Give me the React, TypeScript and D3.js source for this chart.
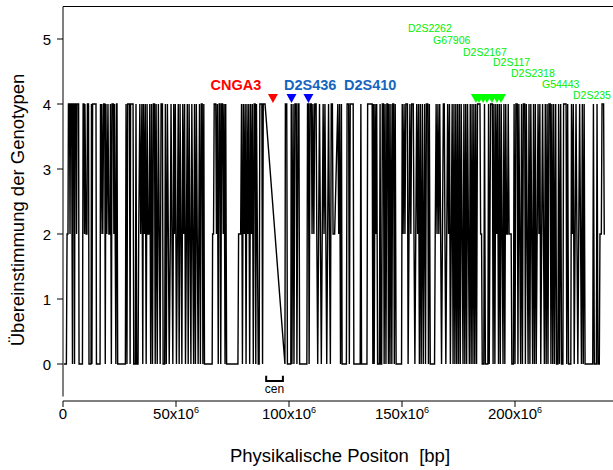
import React from "react";
import * as d3 from "d3";

// SNP position (Mb) and genotype agreement value
const snpMatches: [number, number][] = [
  [0.4,0],[1.5,0],[1.8,2],[2.2,2],[2.4,4],[2.9,4],[3.1,2],[3.3,4],[3.8,4],[4.0,2],[4.2,0],[4.4,4],[4.9,4],[5.1,0],[5.3,4],[5.8,4],[6.0,2],[6.2,4],[6.9,4],[7.1,0],[8.6,0],[8.9,4],[9.3,4],[9.5,2],[9.7,4],[10.2,2],[10.6,2],[10.8,4],[11.3,4],[11.5,0],[12.4,0],[12.6,4],[12.8,0],[13.1,4],[14.6,4],[14.8,0],[16.4,0],
  [16.6,4],[16.8,2],[17.2,4],[17.6,2],[18.0,4],[18.5,4],[18.7,0],[19.0,4],[19.4,2],[19.9,4],[20.3,2],[20.8,2],[21.0,4],[21.4,0],[21.7,4],[22.3,4],[22.5,2],[22.8,4],[23.4,0],[23.7,4],[23.9,4],[24.2,0],[27.6,0],[27.9,4],[28.3,0],[28.6,4],[29.4,4],[29.7,0],
  [29.9,4],[31.0,4],[31.3,0],[32.0,0],[32.3,4],[32.6,0],[33.2,0],[33.5,2],[34.0,4],[34.4,2],[34.9,4],[35.3,0],[35.6,4],[36.0,2],[36.4,4],[36.8,0],[37.2,4],[37.6,2],[38.1,2],[38.4,4],[38.8,0],[39.2,4],[39.6,0],[40.0,4],[40.5,4],[40.8,0],[41.2,4],[41.7,0],[42.2,4],[42.6,2],[43.0,0],
  [43.4,4],[44.0,4],[44.3,0],[45.0,0],[45.3,4],[45.7,0],[46.2,4],[46.6,2],[47.0,0],[47.5,2],[47.8,4],[48.2,2],[48.6,0],[49.0,4],[49.3,2],[49.7,4],[50.2,0],[50.6,2],[51.0,4],[51.4,0],[51.8,4],[52.2,2],[52.6,0],[53.0,4],[53.4,2],[53.8,4],[54.2,0],[54.6,2],[55.0,4],[55.4,0],[55.8,4],[56.2,2],[56.6,0],[57.0,4],[57.4,2],[57.8,0],[58.2,4],[58.6,0],[59.0,4],[59.4,2],[59.8,0],[60.4,4],[60.8,0],
  [61.2,4],[61.6,4],[61.9,0],[62.3,4],[62.6,0],[66.0,0],[66.2,2],[66.6,2],[66.9,4],[67.6,4],[67.9,2],[68.3,4],[68.7,0],[69.1,4],[69.5,4],[69.8,0],[70.2,4],[70.6,4],[70.9,2],[71.3,4],[71.7,0],[72.0,4],[72.4,0],[77.4,0],[77.7,2],[78.6,2],[79.0,4],[79.4,0],[79.8,4],[80.2,2],[80.6,4],[81.0,0],[81.4,4],[81.8,2],[82.2,4],[82.6,0],[83.0,4],[83.4,2],[83.8,4],[84.2,0],[84.6,4],[85.0,4],[85.3,0],[85.6,4],[86.0,2],[86.4,0],[86.8,0],[87.1,4],[88.0,4],[88.3,0],[88.6,4],[89.4,4],[98.2,0],
  [98.4,4],[99.0,4],[99.3,0],[100.8,0],[101.0,4],[101.3,0],[101.8,4],[102.2,0],[102.6,4],[103.2,4],[103.5,0],[104.0,4],[104.4,4],[104.7,0],[107.9,0],[108.2,4],[108.6,4],[108.9,0],[109.3,4],[109.9,4],[110.2,2],[110.6,4],[111.0,2],[111.4,4],[112.0,4],[112.3,2],[112.7,0],[113.1,2],[113.5,4],[113.9,2],[114.3,0],[114.7,2],[115.1,4],[115.5,2],[115.9,4],[116.3,2],[116.7,0],[117.1,2],[117.5,4],[117.9,2],[118.3,0],
  [118.7,4],[119.2,4],[119.5,2],[120.2,2],[121.6,4],[122.0,2],[122.4,4],[122.8,0],[123.2,4],[123.5,0],[125.4,0],[125.7,4],[126.4,4],[126.7,0],[127.1,4],[128.4,4],[128.7,0],[131.5,0],[131.8,4],[132.1,0],[134.5,0],[134.8,4],[136.8,4],[137.1,0],[137.4,4],[137.7,0],[138.1,4],[138.5,2],[138.8,4],[139.2,0],[140.0,0],[140.3,4],[140.6,0],[141.0,0],[141.3,4],[141.8,4],[142.1,0],[142.5,4],[142.9,0],[143.3,4],[143.7,4],[144.0,0],[144.3,4],
  [144.7,0],[145.1,4],[145.5,0],[145.9,4],[146.3,4],[146.6,0],[147.0,4],[147.4,0],[149.8,0],[150.1,4],[150.5,2],[150.9,4],[151.3,2],[151.7,4],[152.4,4],[152.7,0],[153.1,2],[153.5,4],[153.9,2],[154.3,4],[155.0,4],[155.3,2],[155.7,0],[156.1,2],[156.5,4],[156.9,2],[157.3,4],[157.7,0],[158.1,4],[158.5,0],[159.0,4],[159.4,0],[160.0,4],[160.4,0],[160.8,4],[161.4,4],[161.7,0],[162.1,4],[162.5,0],[164.4,0],[164.7,2],
  [165.1,4],[165.5,2],[165.9,4],[166.3,2],[166.7,4],[167.1,2],[167.5,0],[167.9,2],[168.3,4],[168.7,4],[169.0,2],[169.4,0],[169.8,2],[170.2,4],[170.6,2],[171.0,4],[171.4,0],[171.8,2],[172.2,4],[172.6,0],[173.0,4],[173.4,0],[173.8,4],[174.2,0],[174.6,4],[175.0,0],[175.4,4],[175.8,0],[176.2,4],[176.6,2],[177.0,0],[177.4,4],[177.8,0],[178.2,4],[178.6,0],[179.0,4],[179.4,2],[179.8,0],[180.2,4],[180.6,0],[181.0,4],[181.4,0],[181.8,4],[182.2,0],[182.6,4],[183.0,0],
  [183.4,4],[184.5,4],[184.8,2],[185.2,2],[185.5,0],[186.2,0],[186.5,4],[186.9,0],[188.0,0],[188.3,4],[188.6,0],[189.2,4],[190.0,4],[190.3,0],[190.7,4],[191.1,0],[191.5,4],[191.9,2],[192.3,4],[192.7,0],[193.1,4],[193.5,0],[193.9,4],[194.3,2],[194.7,0],[195.1,4],[195.5,0],[195.9,4],[196.3,2],[196.7,2],[197.0,4],[197.4,2],[198.3,2],[198.6,0],[199.3,0],[199.6,4],[200.0,0],[200.4,4],[201.0,4],[201.3,0],[201.7,4],[202.1,2],[202.5,0],[202.9,4],[203.3,0],[203.7,4],[204.3,4],[204.6,0],[205.0,4],[205.4,2],[205.8,0],[206.2,4],[206.6,0],[207.0,4],[207.4,2],[207.8,0],[208.2,4],[208.6,0],[209.0,4],[209.4,0],
  [209.8,2],[210.2,4],[210.6,2],[211.0,4],[211.4,0],[211.8,2],[212.2,4],[212.6,2],[213.0,0],[213.4,4],[213.8,0],[214.2,4],[214.6,0],[215.0,4],[215.6,4],[215.9,0],[216.3,4],[216.7,0],[217.1,4],[217.5,0],[218.0,4],[218.4,0],[219.0,0],[219.3,4],[219.7,0],[220.2,4],[220.6,0],[221.2,0],[221.5,4],[222.6,4],[222.9,0],[223.3,4],[223.7,0],[224.7,0],[225.0,4],[225.4,2],[225.8,4],[226.2,0],[226.6,2],[227.0,4],[227.4,2],[227.8,0],[228.2,2],[228.6,4],[229.0,2],[229.4,0],[229.8,4],[230.2,0],[230.6,4],[231.0,0],[234.4,0],[234.7,4],[235.1,0],[236.0,0],[236.3,4],[236.7,0],[237.3,0],[237.6,2],[238.2,2],[238.5,4],[239.2,4],[239.5,2],[239.8,2],
];

const yTicks = [0, 1, 2, 3, 4, 5];
const xTicksMb = [0, 50, 100, 150, 200];

const redMarkerNames = ["CNGA3"];
const redMarkerMb = [92.9];
const blueMarkerNames = ["D2S436", "D2S410"];
const blueMarkerMb = [101.1, 108.6];
const greenMarkerNames = ["D2S2262", "G67906", "D2S2167", "D2S117", "D2S2318", "G54443", "D2S235"];
const greenMarkerMb = [182.7, 184.1, 185.9, 187.6, 189.8, 192.0, 193.8];
const centromereMb = [89.9, 97.3];

const W = 613;
const H = 470;
const FONT = "Arial, 'Liberation Sans', sans-serif";

export default function App() {
  const x = d3.scaleLinear().domain([0, 245e6]).range([63, 63 + (245 / 50) * 113]);
  const y = d3.scaleLinear().domain([-0.5, 5.5]).range([396.5, 6.5]);
  const line = d3
    .line<[number, number]>()
    .x((d) => x(d[0] * 1e6))
    .y((d) => y(d[1]));

  const tri = (cx: number, tipY: number, w = 10, h = 9) =>
    `M${cx - w / 2},${tipY - h}L${cx + w / 2},${tipY - h}L${cx},${tipY}Z`;

  const markerTip = y(4) - 1;
  const greenLabelPos: [number, number][] = [
    [408, 32], [433, 44], [463, 56], [493, 66], [511, 77], [542, 88], [573, 99],
  ];
  const cx0 = x(centromereMb[0] * 1e6);
  const cx1 = x(centromereMb[1] * 1e6);

  return (
    <svg
      width={W}
      height={H}
      style={{ position: "absolute", left: 0, top: 0, background: "#fff" }}
      fontFamily={FONT}
    >
      <rect width={W} height={H} fill="#fff" />
      {/* frame top and y axis */}
      <line x1={63} x2={W} y1={y(5.5)} y2={y(5.5)} stroke="#000" strokeWidth={1} />
      <line x1={63} x2={63} y1={y(5.5)} y2={y(-0.5)} stroke="#000" strokeWidth={1} />
      {yTicks.map((t) => (
        <g key={t}>
          <line x1={57} x2={63} y1={y(t)} y2={y(t)} stroke="#000" />
          <text x={51} y={y(t) + 5.5} textAnchor="end" fontSize={15}>
            {t}
          </text>
        </g>
      ))}
      {/* x axis */}
      <line x1={63} x2={W} y1={401} y2={401} stroke="#000" strokeWidth={1} />
      {xTicksMb.map((t) => (
        <g key={t}>
          <line x1={x(t * 1e6)} x2={x(t * 1e6)} y1={401} y2={407} stroke="#000" />
          <text x={x(t * 1e6)} y={419} textAnchor="middle" fontSize={15}>
            {t === 0 ? (
              "0"
            ) : (
              <>
                {`${t}x10`}
                <tspan fontSize={9} dy={-6}>6</tspan>
              </>
            )}
          </text>
        </g>
      ))}
      <text
        x={340}
        y={462}
        textAnchor="middle"
        fontSize={18.5}
        style={{ whiteSpace: "pre" }}
      >
        {"Physikalische Positon  [bp]"}
      </text>
      <text
        transform={`translate(24,${210}) rotate(-90)`}
        textAnchor="middle"
        fontSize={18.5}
      >
        Übereinstimmung der Genotypen
      </text>

      {/* data line */}
      <path d={line(snpMatches) ?? ""} fill="none" stroke="#000" strokeWidth={1.4} />

      {/* centromere */}
      <path
        d={`M${cx0},${y(-0.18)}V${y(-0.26)}H${cx1}V${y(-0.18)}`}
        fill="none"
        stroke="#000"
        strokeWidth={2}
      />
      <text x={(cx0 + cx1) / 2} y={393} textAnchor="middle" fontSize={12}>
        cen
      </text>

      {/* markers */}
      {redMarkerMb.map((m, i) => (
        <path key={"r" + i} d={tri(x(m * 1e6), markerTip)} fill="#ff0000" />
      ))}
      <text x={236} y={90} textAnchor="middle" fontSize={14.5} fontWeight="bold" fill="#ff0000">
        {redMarkerNames[0]}
      </text>
      {blueMarkerMb.map((m, i) => (
        <path key={"b" + i} d={tri(x(m * 1e6), markerTip)} fill="#0000ff" />
      ))}
      <text x={284} y={90} fontSize={14.5} fontWeight="bold" fill="#1565c0">
        {blueMarkerNames[0]}
      </text>
      <text x={344} y={90} fontSize={14.5} fontWeight="bold" fill="#1565c0">
        {blueMarkerNames[1]}
      </text>
      {greenMarkerMb.map((m, i) => (
        <path key={"g" + i} d={tri(x(m * 1e6), markerTip)} fill="#00ff00" />
      ))}
      {greenMarkerNames.map((n, i) => (
        <text key={n} x={greenLabelPos[i][0]} y={greenLabelPos[i][1]} fontSize={10.5} fill="#00ee00">
          {n}
        </text>
      ))}
    </svg>
  );
}
